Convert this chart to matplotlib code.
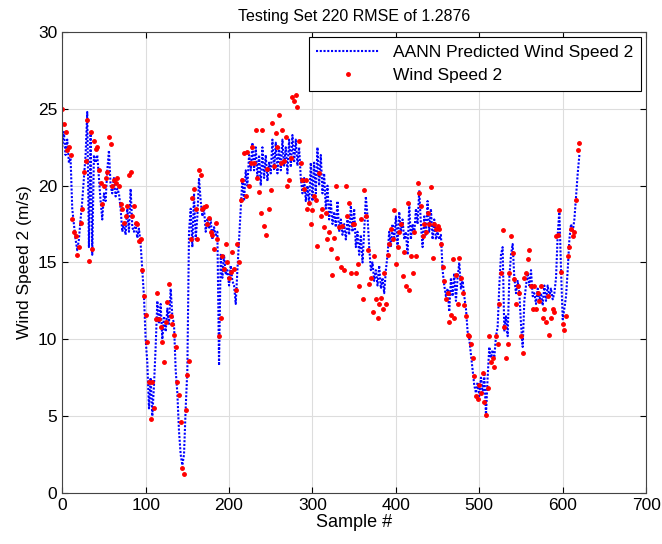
import matplotlib.pyplot as plt
import numpy as np

plt.rcParams['font.family'] = ['Liberation Sans', 'DejaVu Sans']

# sample numbers (every second sample)
sample = np.arange(0, 622, 2)

# AANN predicted wind speed 2 (m/s)
predicted = [
    22.5, 23.5, 22.0, 23.0, 21.5, 21.8, 18.5, 17.5, 16.5, 15.8, 16.5, 17.8, 19.0, 20.5, 22.0, 24.8,
    16.0, 23.5, 15.5, 22.0, 21.5, 22.0, 20.5, 19.0, 17.8, 19.5, 19.0, 21.0, 22.3, 20.0,
    19.5, 20.5, 19.3, 19.8, 19.5, 18.5, 17.0, 17.5, 16.8, 18.5, 17.0, 19.8, 17.3, 17.0, 17.5,
    16.6, 17.2, 16.2, 14.5, 12.8, 10.0, 8.5, 5.5, 7.5, 5.0, 7.0, 9.5, 12.5,
    11.0, 12.3, 10.0, 11.5, 10.5, 12.0, 11.0, 13.3, 11.5, 11.0, 8.0, 6.5, 4.0, 2.5, 1.8, 2.5,
    5.5, 8.0, 17.0, 18.5, 16.0, 19.5, 16.5, 18.0, 20.5, 19.0, 18.0, 18.5, 17.0, 17.8, 17.2, 17.8,
    16.5, 17.3, 16.8, 17.0, 8.3, 15.5, 14.0, 15.5, 14.2, 14.5, 13.5, 14.8, 13.8, 13.5, 12.3, 14.5,
    16.5, 18.5, 20.5, 19.0, 21.0, 20.0, 22.0, 21.0, 22.8, 21.0, 22.5,
    20.5, 22.0, 20.0, 22.5, 20.5, 22.0, 20.3, 21.5, 20.8, 23.0, 21.0, 22.8, 20.8, 22.5, 21.0, 23.0,
    21.3, 22.5, 20.8, 23.0, 21.2, 23.3, 21.5, 23.0, 21.3, 22.5, 20.5, 19.5, 20.5, 19.0, 20.0, 18.8,
    21.5, 19.0, 21.5, 19.5, 22.5, 20.0, 22.0, 19.5, 20.8, 18.5, 20.0, 17.8, 19.0, 17.5, 18.3, 17.3,
    19.0, 17.0, 17.8, 16.8, 17.5, 16.5, 17.8, 16.8, 18.7, 17.0, 18.5, 16.0, 17.0, 15.5, 16.8, 15.0,
    17.0, 19.3, 18.0, 16.0, 14.5, 15.0, 13.8, 14.5, 13.5, 14.8, 13.3, 14.0, 13.0, 14.5, 15.5, 17.0,
    16.0, 17.5, 16.5, 18.0, 16.0, 18.3, 17.0, 17.8, 16.5, 17.0, 15.5, 18.8, 16.5, 17.5, 16.8, 18.5,
    17.5, 19.7, 17.5, 16.0, 18.0, 16.8, 19.0, 17.0, 18.5, 16.5, 17.8, 16.5, 17.0, 16.5, 16.8, 14.5,
    13.5, 12.8, 13.3, 11.8, 14.0, 12.8, 14.3, 12.5, 14.0, 15.0, 13.3, 13.8, 12.8, 12.0, 10.5, 10.0,
    9.0, 8.0, 7.0, 6.5, 7.2, 6.3, 7.5, 6.5, 7.8, 5.0, 7.5, 9.5, 8.8, 9.3, 8.8, 10.2,
    10.8, 13.5, 15.5, 16.0, 10.5, 11.5, 10.2, 14.0, 15.5, 16.2, 14.0, 13.0, 13.8, 13.0, 11.0, 9.5,
    12.5, 13.5, 14.3, 13.5, 14.5, 12.8, 13.0, 12.3, 13.3, 12.5, 13.0, 12.2, 13.5, 12.5, 13.5, 12.8,
    13.3, 12.6, 13.0, 14.0, 16.8, 18.4, 14.5, 11.3, 12.0, 12.8, 14.5, 16.5, 17.5, 17.0, 17.8, 19.3,
    20.8, 22.0,
]

# measured wind speed 2 (m/s)
measured = [
    25.0, 24.0, 23.5, 22.3, 22.5, 22.0, 17.8, 17.0, 16.7, 15.5, 16.0, 17.6, 18.5, 20.9, 21.6, 24.3,
    15.1, 23.5, 15.9, 22.9, 22.4, 22.5, 21.0, 20.2, 18.8, 20.0, 20.5, 20.9, 23.2, 22.7,
    20.0, 20.4, 20.2, 20.5, 20.0, 18.8, 18.5, 17.6, 18.0, 18.7, 20.7, 20.9, 18.0, 18.7, 17.6,
    17.5, 16.4, 16.5, 14.5, 12.8, 11.6, 9.8, 7.2, 4.8, 7.2, 5.5, 11.3, 13.0,
    11.3, 10.8, 9.8, 8.5, 11.1, 12.4, 13.6, 11.5, 11.0, 10.3, 9.5, 7.2, 6.4, 4.6, 1.6, 1.2,
    5.4, 7.7, 8.6, 16.5, 19.2, 19.8, 18.5, 16.5, 21.0, 20.7, 18.5, 18.6, 18.7, 17.5, 17.9, 17.0,
    16.8, 15.9, 17.6, 16.5, 10.2, 11.4, 15.4, 14.6, 16.2, 15.0, 14.0, 14.4, 15.7, 14.6, 13.2, 16.2,
    15.0, 19.1, 20.4, 22.1, 19.3, 22.2, 20.0, 21.5, 22.5, 21.5, 23.6,
    20.5, 19.6, 18.2, 23.6, 17.4, 16.8, 21.1, 18.5, 19.7, 24.1, 21.3, 23.4, 22.5, 24.6, 21.5, 23.6,
    21.6, 23.2, 20.0, 20.4, 21.8, 25.8, 25.5, 25.9, 25.1, 22.9, 21.5, 20.4, 19.8, 20.4, 18.5, 18.9,
    17.5, 18.4, 19.3, 19.1, 16.1, 20.8, 18.0, 18.5, 17.3, 18.2, 16.5, 17.0, 15.9, 14.2, 16.6, 20.0,
    15.3, 17.3, 14.7, 17.4, 14.5, 20.0, 18.0, 18.9, 14.3, 17.5, 17.5, 14.3, 14.9, 13.5, 17.8, 12.6,
    19.7, 18.0, 15.8, 13.6, 14.0, 11.8, 15.4, 12.6, 11.4, 12.3, 12.7, 12.0, 14.3, 12.3, 15.5, 16.2,
    17.2, 16.5, 18.4, 14.9, 16.0, 17.0, 17.5, 14.1, 15.7, 13.5, 18.9, 13.2, 15.4, 14.3, 17.0, 15.4,
    20.2, 19.5, 18.7, 16.7, 17.5, 17.0, 18.2, 17.5, 19.9, 15.3, 17.5, 17.2, 17.4, 17.2, 16.2, 14.7,
    13.8, 12.6, 13.0, 11.1, 11.6, 15.2, 11.4, 14.2, 12.3, 15.3, 14.0, 13.0, 12.2, 11.5, 10.3, 10.2,
    9.7, 8.8, 7.6, 6.3, 6.1, 7.0, 6.5, 7.8, 5.9, 5.1, 6.8, 10.2, 8.5, 8.8, 8.2, 10.2,
    9.7, 12.3, 14.3, 17.1, 10.8, 8.8, 9.7, 14.3, 16.7, 15.6, 13.9, 12.3, 13.5, 13.0, 10.2, 9.1,
    14.0, 14.3, 15.2, 15.8, 13.5, 12.0, 13.5, 12.0, 13.0, 12.5, 13.5, 11.4, 12.0, 11.1, 12.8, 10.3,
    11.4, 12.0, 11.8, 16.7, 16.8, 18.4, 14.4, 11.0, 10.6, 11.5, 15.4, 16.0, 17.2, 16.7, 17.0, 19.1,
    22.3, 22.8,
]

fig = plt.figure(figsize=(6.62, 5.44), dpi=100)
ax = fig.add_axes([0.094, 0.094, 0.882, 0.847])

ax.plot(sample, predicted, color='blue', linestyle=(0, (1, 0.8)), linewidth=1.5,
        label='AANN Predicted Wind Speed 2')
ax.plot(sample, measured, color='red', linestyle='none', marker='.', markersize=5,
        label='Wind Speed 2')

ax.set_xlim(0, 700)
ax.set_ylim(0, 30)
ax.set_xticks(np.arange(0, 701, 100))
ax.set_yticks(np.arange(0, 31, 5))
ax.grid(True, color='#dddddd', linewidth=0.8)
ax.set_axisbelow(True)
ax.tick_params(direction='in', top=True, right=True, labelsize=12.5, length=4)
for s in ax.spines.values():
    s.set_color('#444444')

ax.set_xlabel('Sample #', fontsize=13, labelpad=1)
ax.set_ylabel('Wind Speed 2 (m/s)', fontsize=12.5, labelpad=4)
ax.set_title('Testing Set 220 RMSE of 1.2876', fontsize=11.5, pad=8)

leg = ax.legend(loc='upper right', fontsize=12.5, fancybox=False, framealpha=1,
                edgecolor='black', borderaxespad=0.3, handlelength=3.6,
                borderpad=0.45, labelspacing=0.45)
leg.get_frame().set_linewidth(0.8)

fig.savefig('out.png', dpi=100)
plt.close(fig)
